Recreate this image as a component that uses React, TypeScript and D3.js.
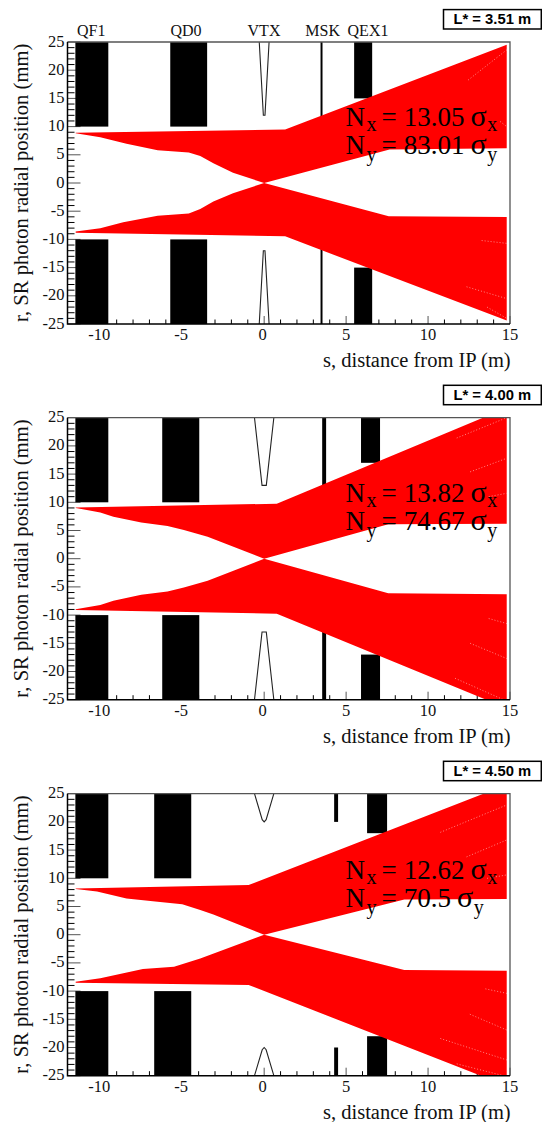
import React from "react";
import * as d3 from "d3";

type Pt = [number, number];

const lStar = ["L* = 3.51 m", "L* = 4.00 m", "L* = 4.50 m"];
const sigmaX = ["13.05", "13.82", "12.62"];
const sigmaY = ["83.01", "74.67", "70.5"];
const elementNames = ["QF1", "QD0", "VTX", "MSK", "QEX1"];
const xMajor = [-10, -5, 0, 5, 10, 15];
const yMajor = [-25, -20, -15, -10, -5, 0, 5, 10, 15, 20, 25];

// [s start, s end, |r| inner]
const qf1 = [[-11.52, -9.51, 10], [-11.52, -9.51, 10], [-11.52, -9.51, 10]];
const qd0 = [[-5.73, -3.48, 10], [-6.22, -3.96, 10], [-6.71, -4.45, 10]];
const msk = [[3.44, 3.56, 11], [3.54, 3.78, 12], [4.27, 4.51, 20]];
const qex1 = [[5.49, 6.59, 15], [5.91, 7.07, 17], [6.28, 7.5, 18]];
// vertex chamber outline, upper half
const vtx: Pt[][] = [
  [[-0.3, 25], [-0.05, 12], [0.05, 12], [0.3, 25]],
  [[-0.59, 25], [-0.13, 13], [0.13, 13], [0.59, 25]],
  [[-0.59, 25], [-0.12, 20.4], [0, 20], [0.12, 20.4], [0.59, 25]],
];

// SR fan, upper band: outer edge
const upperOuter: Pt[][] = [
  [[-11.5, 8.9], [1.28, 9.5], [14.8, 24.5]],
  [[-11.5, 9.1], [0.77, 9.75], [14.8, 26.75]],
  [[-11.5, 8.2], [-0.95, 8.8], [14.8, 26.6]],
];
// upper band: inner edge
const upperInner: Pt[][] = [
  [[-11.5, 8.8], [-10, 8.1], [-8.4, 6.95], [-6.5, 5.8], [-4.6, 5.4], [-3.9, 4.8], [-3.1, 3.5], [-1.9, 1.8], [0, 0], [7.65, 5.95], [14.8, 6.15]],
  [[-11.5, 9], [-10, 8.2], [-9.2, 7.45], [-7.5, 6.4], [-5.9, 5.8], [-4.9, 5.1], [-3.45, 3.9], [0, 0], [7.57, 6.1], [14.8, 6.2]],
  [[-11.5, 8.1], [-10.2, 7.65], [-8.4, 6.4], [-6.5, 5.85], [-5, 5.4], [-3.9, 4.4], [-3.1, 3.6], [0, 0], [8.55, 6.25], [14.8, 6.35]],
];
// lower band: outer edge
const lowerOuter: Pt[][] = [
  [[-11.5, -8.8], [1.28, -9.45], [14.8, -24.4]],
  [[-11.5, -9.1], [0.77, -9.75], [14.8, -26.5]],
  [[-11.5, -8.5], [-0.95, -8.9], [14.8, -26.8]],
];
// lower band: inner edge
const lowerInner: Pt[][] = [
  [[-11.5, -8.6], [-10, -8.03], [-8.6, -6.97], [-6.5, -5.8], [-4.6, -5.4], [-3.9, -4.6], [-3.1, -3.3], [-1.9, -1.8], [0, 0], [7.6, -5.9], [14.8, -6.05]],
  [[-11.5, -8.95], [-10, -8.2], [-9.2, -7.45], [-7.5, -6.4], [-5.9, -5.8], [-4.9, -5.1], [-3.45, -3.9], [0, 0], [7.57, -6.13], [14.8, -6.3]],
  [[-11.5, -8.35], [-10, -7.7], [-7.4, -6.1], [-5.5, -5.67], [-3.9, -4.2], [0, 0], [8.55, -6.26], [14.8, -6.4]],
];
// thin gaps between fan rays near the far end
const rayGaps: Pt[][][] = [
  [
    [[12.45, 18.26], [14.8, 23.6]],
    [[14.4, 10.9], [14.8, 10]],
    [[13.27, -10.2], [14.8, -10.7]],
    [[12.35, -18.4], [14.8, -20.5]],
    [[13.6, -22], [14.8, -24]],
  ],
  [
    [[12.57, 15.4], [14.8, 17.8]],
    [[11.75, 21.4], [14.8, 25]],
    [[13.7, 11], [14.8, 11.6]],
    [[13.7, -10.6], [14.8, -11.5]],
    [[12.57, -15], [14.8, -17.7]],
    [[11.65, -21.2], [14.6, -25]],
  ],
  [
    [[10.75, 18.15], [14.8, 23]],
    [[12.35, 13.8], [14.8, 16.8]],
    [[13.6, 10], [14.8, 10.6]],
    [[13.5, -9.6], [14.8, -10.4]],
    [[12.55, -14.1], [14.8, -16.9]],
    [[10.75, -18.4], [14.8, -22.2]],
    [[11.75, -22.9], [14.6, -25]],
  ],
];

const WIDTH = 542;
const HEIGHT = 1122;
const panelTops = [42, 417.7, 793.7];
const noteShift = [0, 0, 1];
const left = 67.5;
const right = 510;
const plotH = 282;
const SERIF = "'Liberation Serif','Times New Roman',serif";
const SANS = "'Liberation Sans',Arial,sans-serif";

function Note({ y, value, sub, subDy }: { y: number; value: string; sub: string; subDy: number }) {
  return (
    <text x={345.6} y={y} fontFamily={SERIF} fontSize={27} fill="#000">
      N
      <tspan dx={1.5} dy={subDy} fontSize={20}>{sub}</tspan>
      <tspan dx={5} dy={-subDy}>=</tspan>
      <tspan dx={7}>{value}</tspan>
      <tspan dx={6} fontSize={30}>σ</tspan>
      <tspan dx={0.5} dy={subDy} fontSize={20}>{sub}</tspan>
    </text>
  );
}

function Panel({ i }: { i: number }) {
  const top = panelTops[i];
  const bottom = top + plotH;
  const x = d3.scaleLinear().domain([-12, 15]).range([left, right]);
  const y = d3.scaleLinear().domain([-25, 25]).range([bottom, top]);
  const line = d3.line<Pt>().x((d) => x(d[0])).y((d) => y(d[1]));
  const xMinor = d3.range(-12, 16);
  const yMinor = d3.range(-25, 26);
  const clipId = `plot-clip-${i}`;

  const band = (outer: Pt[], inner: Pt[]) => line([...outer, ...[...inner].reverse()]) + "Z";
  const rects = [qf1[i], qd0[i], msk[i], qex1[i]];

  return (
    <g>
      <defs>
        <clipPath id={clipId}>
          <rect x={left} y={top} width={right - left} height={plotH} />
        </clipPath>
      </defs>

      {/* ticks */}
      <g stroke="#000" strokeWidth={1}>
        {xMinor.map((t) => {
          const major = xMajor.includes(t);
          return <line key={t} x1={x(t)} x2={x(t)} y1={bottom} y2={bottom - (major ? 8 : 4.5)} stroke={major ? "#555" : "#000"} />;
        })}
        {yMinor.map((t) => (
          <line key={t} x1={left} x2={left + (yMajor.includes(t) ? 13 : 7)} y1={y(t)} y2={y(t)} stroke={yMajor.includes(t) ? "#555" : "#000"} />
        ))}
      </g>

      {/* beamline elements */}
      <g fill="#000">
        {rects.map((r, k) => (
          <g key={k}>
            <rect x={x(r[0])} width={x(r[1]) - x(r[0])} y={top} height={y(r[2]) - top} />
            <rect x={x(r[0])} width={x(r[1]) - x(r[0])} y={y(-r[2])} height={bottom - y(-r[2])} />
          </g>
        ))}
      </g>
      <path d={line(vtx[i]) ?? ""} fill="none" stroke="#222" strokeWidth={1.1} />
      <path d={line(vtx[i].map((d) => [d[0], -d[1]] as Pt)) ?? ""} fill="none" stroke="#222" strokeWidth={1.1} />

      {/* SR fan */}
      <g clipPath={`url(#${clipId})`}>
        <path d={band(upperOuter[i], upperInner[i])} fill="#ff0000" />
        <path d={band(lowerOuter[i], lowerInner[i])} fill="#ff0000" />
        {rayGaps[i].map((g, k) => (
          <path key={k} d={line(g) ?? ""} fill="none" stroke="#fff" strokeOpacity={0.75} strokeWidth={0.7} strokeDasharray="1 2" />
        ))}
      </g>

      {/* frame */}
      <path d={`M${left},${top}H${right}V${bottom}`} fill="none" stroke="#555" strokeWidth={1.3} />
      <path d={`M${left},${top}V${bottom}H${right}`} fill="none" stroke="#000" strokeWidth={1.5} />

      {/* tick labels */}
      <g fontFamily={SERIF} fontSize={16.5} fill="#111">
        {yMajor.map((t) => (
          <text key={t} x={64.5} y={y(t) + 4.5} textAnchor="end">{t}</text>
        ))}
        {xMajor.map((t) => (
          <text key={t} x={x(t) + (t < 0 ? -1 : t === 0 ? -1.5 : 0)} y={bottom + 16.3} textAnchor="middle">{t}</text>
        ))}
      </g>

      {/* axis titles */}
      <text x={510.7} y={bottom + 43} textAnchor="end" fontFamily={SERIF} fontSize={20.5} fill="#111">
        s, distance from IP (m)
      </text>
      <text
        transform={`translate(27.5,${bottom - 2}) rotate(-90)`}
        fontFamily={SERIF}
        fontSize={20.6}
        fill="#111"
      >
        r, SR photon radial position (mm)
      </text>

      {/* optics numbers */}
      <Note y={top + 84 + noteShift[i]} value={sigmaX[i]} sub="x" subDy={5} />
      <Note y={top + 112.3 + noteShift[i]} value={sigmaY[i]} sub="y" subDy={7} />

      {/* L* box */}
      <rect x={443.5} y={top - 32.4} width={97.8} height={19.4} fill="#fff" stroke="#000" strokeWidth={1.5} />
      <text x={492.3} y={top - 17.6} textAnchor="middle" fontFamily={SANS} fontWeight={700} fontSize={14.8} fill="#000">
        {lStar[i]}
      </text>

      {/* element names, first panel only */}
      {i === 0 && (
        <g fontFamily={SERIF} fontSize={16} fill="#111">
          {elementNames.map((n, k) => (
            <text key={n} x={[91.3, 186, 264, 322.7, 368][k]} y={36} textAnchor="middle">{n}</text>
          ))}
        </g>
      )}
    </g>
  );
}

export default function App() {
  return (
    <svg
      width={WIDTH}
      height={HEIGHT}
      viewBox={`0 0 ${WIDTH} ${HEIGHT}`}
      style={{ position: "absolute", left: 0, top: 0, background: "#fff" }}
    >
      {panelTops.map((_, i) => (
        <Panel key={i} i={i} />
      ))}
    </svg>
  );
}
